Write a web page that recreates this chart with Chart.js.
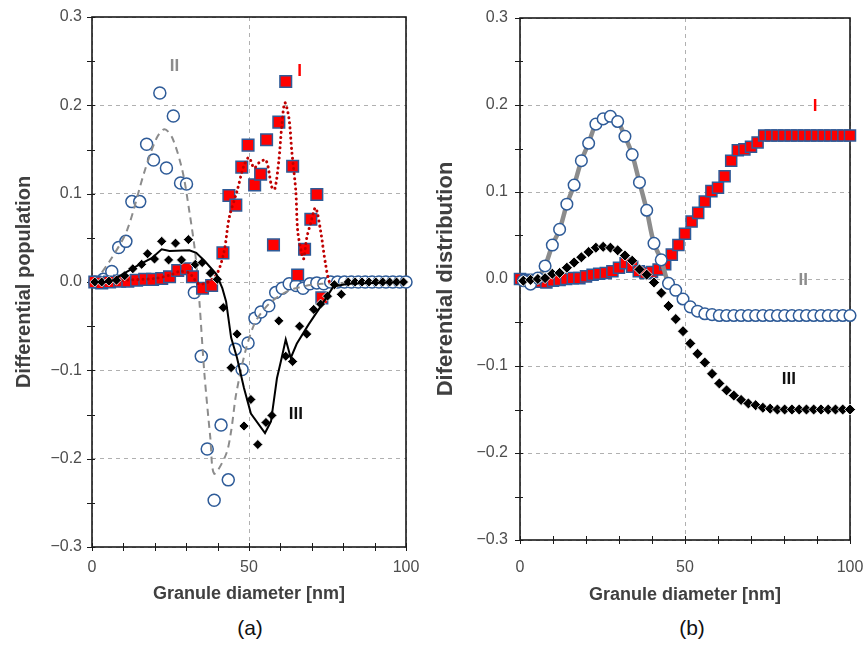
<!DOCTYPE html>
<html>
<head>
<meta charset="utf-8">
<script src="https://cdn.jsdelivr.net/npm/chart.js@4/dist/chart.umd.min.js"></script>
<style>
  body { margin: 0; background: #fff; width: 867px; height: 645px; position: relative; overflow: hidden;
         font-family: "Liberation Sans", Arial, sans-serif; }
  #ca { position: absolute; left: 0; top: 0; }
  #cb { position: absolute; left: 433px; top: 0; }
  .cap { position: absolute; top: 615px; font-size: 21px; line-height: 26px; color: #111; transform: translateX(-50%); }
</style>
</head>
<body>
<canvas id="ca" width="433" height="610"></canvas>
<canvas id="cb" width="434" height="610"></canvas>
<div class="cap" style="left:250px">(a)</div>
<div class="cap" style="left:692px">(b)</div>
<script>
// ---- panel (a): differential population ----
const popIIx = [0.9, 3.6, 6.3, 8.5, 10.8, 12.7, 15.2, 17.4, 19.6, 21.6, 23.7, 25.9, 28.2, 30.1, 32.6,
  34.8, 36.7, 38.9, 41.1, 43.4, 45.6, 47.8, 49.7, 51.9, 53.8, 56.3, 58.5, 60.6, 62.8, 65.0,
  67.2, 69.4, 71.6, 73.8, 76.0, 78.2, 80.4, 82.6, 84.8, 87.0, 89.2, 91.4, 93.6, 95.8, 98.0, 100.0];
const popII = [0, 0.003, 0.012, 0.039, 0.046, 0.091, 0.091, 0.156, 0.138, 0.214, 0.129, 0.188, 0.112, 0.111, -0.012,
  -0.084, -0.189, -0.247, -0.162, -0.224, -0.076, -0.099, -0.069, -0.041, -0.034, -0.027, -0.012, -0.007, -0.002, -0.004,
  -0.007, -0.002, -0.001, -0.002, 0, 0, 0, 0, 0, 0, 0, 0, 0, 0, 0, 0];

const fitIIx = [0.9, 5.7, 11.1, 16.8, 20.6, 23.1, 25.6, 28.8, 31.0, 32.9, 34.2, 35.8, 37.7, 38.9, 42.7,
  44.3, 45.9, 49.1, 52.2, 56.3, 60.4, 64.9, 73.1, 100];
const fitII = [0, 0.024, 0.058, 0.126, 0.163, 0.173, 0.163, 0.126, 0.080, 0.032, -0.022, -0.104, -0.177, -0.217, -0.195,
  -0.169, -0.127, -0.075, -0.044, -0.025, -0.014, -0.007, -0.002, 0];

const popIx = [0.9, 3.1, 5.6, 8.8, 11.4, 14.2, 16.8, 19.3, 22.2, 24.7, 27.3, 30.1, 32.0, 35.2, 38.1,
  41.7, 43.6, 45.8, 47.7, 49.7, 51.8, 53.7, 55.6, 57.8, 59.5, 61.7, 63.9, 65.5, 67.7, 69.7, 71.6, 73.2];
const popI = [0, -0.001, 0, 0.001, 0.001, 0.002, 0.003, 0.003, 0.004, 0.006, 0.013, 0.015, 0.006, -0.007, -0.004,
  0.033, 0.098, 0.087, 0.130, 0.155, 0.110, 0.122, 0.161, 0.042, 0.181, 0.227, 0.131, 0.008, 0.037, 0.071, 0.099, -0.018];

const fitIx = [0, 10, 20, 25, 28, 31, 34, 37, 39.9, 42.1, 43.7, 46.2, 48.4, 50.0, 51.6, 53.2, 55.4, 57.3, 58.2,
  59.5, 60.4, 61.4, 62.7, 63.6, 64.9, 65.5, 66.8, 67.4, 68.4, 69.6, 71.2, 72.8, 74.4, 75.9, 78];
const fitI = [0, 0.002, 0.004, 0.008, 0.012, 0.010, -0.002, 0.000, 0.010, 0.035, 0.073, 0.103, 0.132, 0.141, 0.129, 0.135, 0.138, 0.107, 0.105,
  0.137, 0.175, 0.203, 0.186, 0.149, 0.103, 0.058, 0.032, 0.026, 0.050, 0.066, 0.084, 0.058, 0.020, -0.002, 0];

const popIIIx = [0.9, 3.1, 5.4, 7.8, 10.4, 13.0, 15.8, 17.7, 19.9, 22.2, 24.4, 26.6, 28.5, 30.7, 32.9,
  35.1, 37.7, 39.9, 41.8, 44.3, 46.2, 48.4, 50.6, 52.8, 55.4, 57.3, 59.5, 61.7, 63.9, 66.1,
  68.4, 70.6, 72.8, 75.0, 77.2, 79.4, 81.6, 83.8, 86.0, 88.2, 90.4, 92.6, 94.8, 97.0, 99.2];
const popIII = [0, 0, 0.001, 0.002, 0.007, 0.015, 0.020, 0.032, 0.026, 0.046, 0.025, 0.044, 0.025, 0.048, 0.020,
  0.022, 0.010, 0.003, -0.029, -0.097, -0.059, -0.163, -0.133, -0.184, -0.159, -0.151, -0.044, -0.084, -0.090, -0.050,
  -0.059, -0.031, -0.025, -0.016, -0.003, -0.014, 0, 0, 0, 0, 0, 0, 0, 0, 0];

const fitIIIx = [0, 5.7, 9.8, 15.2, 19.0, 22.2, 24.7, 31.0, 33.2, 35.8, 39.6, 41.5, 42.7, 44.3, 46.2,
  48.4, 50.6, 55.1, 57.0, 58.9, 60.4, 61.7, 63.3, 65.2, 69.0, 72.2, 76.9, 81.6, 100];
const fitIII = [0, 0, 0.009, 0.020, 0.027, 0.037, 0.035, 0.036, 0.033, 0.024, 0.009, -0.007, -0.022, -0.063, -0.086,
  -0.120, -0.149, -0.171, -0.158, -0.109, -0.086, -0.065, -0.086, -0.070, -0.048, -0.031, -0.005, -0.002, 0];

// ---- panel (b): differential distribution ----
const distX = [1.0, 3.2, 5.4, 7.6, 9.8, 12.0, 14.2, 16.4, 18.6, 20.8, 23.0, 25.2, 27.4, 29.6, 31.8,
  34.0, 36.2, 38.4, 40.6, 42.8, 45.0, 47.2, 49.4, 51.6, 53.8, 56.0, 58.2, 60.4, 62.6, 64.8,
  67.0, 69.2, 71.4, 73.6, 75.8, 78.0, 80.2, 82.4, 84.6, 86.8, 89.0, 91.2, 93.4, 95.6, 97.8, 100.0];
const distII = [-0.002, -0.006, 0.001, 0.015, 0.039, 0.057, 0.086, 0.108, 0.136, 0.156, 0.178, 0.184, 0.187, 0.181, 0.164,
  0.143, 0.111, 0.079, 0.041, 0.022, -0.005, -0.013, -0.023, -0.032, -0.037, -0.040, -0.041, -0.042, -0.042, -0.042,
  -0.042, -0.042, -0.042, -0.042, -0.042, -0.042, -0.042, -0.042, -0.042, -0.042, -0.042, -0.042, -0.042, -0.042, -0.042, -0.042];
const distIII = [-0.002, -0.001, 0.000, 0.001, 0.006, 0.007, 0.013, 0.019, 0.025, 0.031, 0.036, 0.037, 0.036, 0.033, 0.027,
  0.021, 0.011, 0.005, -0.004, -0.016, -0.031, -0.046, -0.060, -0.074, -0.086, -0.096, -0.109, -0.120, -0.128, -0.134,
  -0.139, -0.143, -0.145, -0.148, -0.149, -0.150, -0.150, -0.150, -0.150, -0.150, -0.150, -0.150, -0.150, -0.150, -0.150, -0.150];

const distIx = [0, 2, 4, 6, 8, 10, 12, 14, 16, 18, 20, 22, 24, 26, 28, 30, 32, 34, 36, 38, 40, 42, 44, 46, 48, 50,
  52, 54, 56, 58, 60, 62, 64, 66, 68, 70, 72, 74, 76, 78, 80, 82, 84, 86, 88, 90, 92, 94, 96, 98, 100];
const distI = [0, -0.001, -0.002, -0.003, -0.004, -0.002, -0.001, 0.000, 0.001, 0.001, 0.003, 0.005, 0.006, 0.007, 0.009,
  0.013, 0.018, 0.014, 0.009, 0.007, 0.008, 0.011, 0.017, 0.028, 0.039, 0.052, 0.066, 0.076, 0.089, 0.101,
  0.105, 0.118, 0.136, 0.148, 0.149, 0.152, 0.157, 0.165, 0.165, 0.165, 0.165, 0.165, 0.165, 0.165, 0.165,
  0.165, 0.165, 0.165, 0.165, 0.165, 0.165];

// series tags written inside the plots
const tagsA = { text: ['II', 'I', 'III'], x: [26.3, 66.1, 64.9], y: [0.244, 0.238, -0.150], color: ['#8c8c8c', '#ff0000', '#111'] };
const tagsB = { text: ['I', 'II', 'III'], x: [89.4, 85.8, 81.5], y: [0.199, -0.002, -0.115], color: ['#ff0000', '#8c8c8c', '#111'] };

const xTickMarks = [0, 10, 20, 30, 40, 50, 60, 70, 80, 90, 100];
const yTickMarks = [-0.3, -0.25, -0.2, -0.15, -0.1, -0.05, 0, 0.05, 0.1, 0.15, 0.2, 0.25, 0.3];

const FONT = '"Liberation Sans", Arial, sans-serif';
const BLUE = '#2e5b98';

const pts = (xs, ys) => xs.map((x, i) => ({ x, y: ys[i] }));

// box around the plot area plus the small crossing tick marks
const frame = {
  id: 'frame',
  beforeDatasetsDraw(chart) {
    const { ctx, chartArea: a, scales: { x, y } } = chart;
    ctx.save();
    ctx.strokeStyle = '#1a1a1a';
    ctx.lineWidth = 1.6;
    ctx.strokeRect(a.left, a.top, a.right - a.left, a.bottom - a.top);
    ctx.lineWidth = 1;
    ctx.beginPath();
    xTickMarks.forEach(v => {
      const px = Math.round(x.getPixelForValue(v)) + 0.5;
      ctx.moveTo(px, a.bottom - 4); ctx.lineTo(px, a.bottom + 4);
    });
    yTickMarks.forEach(v => {
      const py = Math.round(y.getPixelForValue(v)) + 0.5;
      ctx.moveTo(a.left - 5, py); ctx.lineTo(a.left + 3, py);
    });
    ctx.stroke();
    ctx.restore();
  }
};

const seriesTags = {
  id: 'seriesTags',
  afterDatasetsDraw(chart, args, opts) {
    const { ctx, scales: { x, y } } = chart;
    const t = opts.tags;
    ctx.save();
    ctx.font = 'bold 17px ' + FONT;
    ctx.textAlign = 'center';
    ctx.textBaseline = 'middle';
    t.text.forEach((s, i) => {
      ctx.fillStyle = t.color[i];
      ctx.fillText(s, x.getPixelForValue(t.x[i]), y.getPixelForValue(t.y[i]));
    });
    ctx.restore();
  }
};

function yLabel(v) {
  if (Math.abs(v) < 1e-9) return '0.0';
  return (v < 0 ? '\u2212' : '') + Math.abs(v).toFixed(1);
}

// fixed axis boxes, and no extra room asked for by edge labels
function fixBox(size, key) {
  return s => {
    s[key] = size;
    s.paddingLeft = 0; s.paddingRight = 0; s.paddingTop = 0; s.paddingBottom = 0;
  };
}

function panel(id, cfg) {
  return new Chart(document.getElementById(id), {
    type: 'scatter',
    data: { datasets: cfg.datasets },
    options: {
      responsive: false,
      animation: false,
      devicePixelRatio: 1,
      layout: { padding: { left: 0, top: cfg.top, right: cfg.padRight, bottom: 0 } },
      plugins: { legend: { display: false }, tooltip: { enabled: false }, seriesTags: { tags: cfg.tags } },
      scales: {
        x: {
          type: 'linear', min: 0, max: 100,
          afterFit: fixBox(cfg.xH, 'height'),
          ticks: { stepSize: 50, padding: cfg.xPad, color: '#4d4d4d', font: { family: FONT, size: 16 } },
          grid: { drawTicks: false, color: '#b0b0b0', lineWidth: 1 },
          border: { display: false, dash: [4, 4] },
          title: { display: true, text: 'Granule diameter [nm]', color: '#404040',
                   font: { family: FONT, size: 18, weight: 'bold' }, padding: { top: 0, bottom: cfg.xTitlePad } }
        },
        y: {
          type: 'linear', min: -0.3, max: 0.3,
          afterFit: fixBox(cfg.yW, 'width'),
          ticks: { stepSize: 0.1, padding: cfg.yPad, color: '#4d4d4d', font: { family: FONT, size: 16 }, callback: yLabel },
          grid: { drawTicks: false, color: '#b0b0b0', lineWidth: 1 },
          border: { display: false, dash: [4, 4] },
          title: { display: true, text: cfg.yTitle, color: '#404040',
                   font: { family: FONT, size: cfg.yTitleSize, weight: 'bold' }, padding: { top: cfg.yTitlePad, bottom: 0 } }
        }
      }
    },
    plugins: [frame, seriesTags]
  });
}

panel('ca', {
  top: 17, padRight: 27, xH: 63, yW: 92, xPad: 11, yPad: 10, xTitlePad: 5, yTitlePad: 12, yTitleSize: 20,
  yTitle: 'Differential population', tags: tagsA,
  datasets: [
    { data: pts(fitIIIx, fitIII), showLine: true, pointRadius: 0, borderColor: '#000', borderWidth: 2, clip: false, order: 0 },
    { data: pts(popIIIx, popIII), pointStyle: 'rectRot', pointRadius: 5, backgroundColor: '#000',
      borderColor: '#fff', borderWidth: 0.8, clip: false, order: 1 },
    { data: pts(fitIx, fitI), showLine: true, pointRadius: 0, borderColor: '#c00000', borderWidth: 3,
      borderDash: [0.1, 5], borderCapStyle: 'round', tension: 0.3, clip: false, order: 2 },
    { data: pts(popIx, popI), pointStyle: 'rect', pointRadius: 8.2, backgroundColor: '#ff0000',
      borderColor: BLUE, borderWidth: 1.5, clip: false, order: 3 },
    { data: pts(fitIIx, fitII), showLine: true, pointRadius: 0, borderColor: '#8c8c8c', borderWidth: 2,
      borderDash: [7, 5], tension: 0.3, clip: false, order: 4 },
    { data: pts(popIIx, popII), pointStyle: 'circle', pointRadius: 6, backgroundColor: '#fff',
      borderColor: BLUE, borderWidth: 1.5, clip: false, order: 5 }
  ]
});

panel('cb', {
  top: 18, padRight: 17, xH: 70, yW: 87, xPad: 18, yPad: 12, xTitlePad: 4, yTitlePad: 0, yTitleSize: 22,
  yTitle: 'Diferential distribution', tags: tagsB,
  datasets: [
    { data: pts(distX, distIII), pointStyle: 'rectRot', pointRadius: 5.5, backgroundColor: '#000',
      borderColor: '#fff', borderWidth: 0.8, clip: false, order: 0 },
    { data: pts(distX, distII), pointStyle: 'circle', pointRadius: 5.8, backgroundColor: '#fff',
      borderColor: BLUE, borderWidth: 1.5, clip: false, order: 1 },
    { data: pts(distX, distII), showLine: true, pointRadius: 0, borderColor: '#8c8c8c', borderWidth: 4.5,
      tension: 0.4, clip: false, order: 2 },
    { data: pts(distIx, distI), pointStyle: 'rect', pointRadius: 7.8, backgroundColor: '#ff0000',
      borderColor: BLUE, borderWidth: 1.5, clip: false, order: 3 }
  ]
});
</script>
</body>
</html>
